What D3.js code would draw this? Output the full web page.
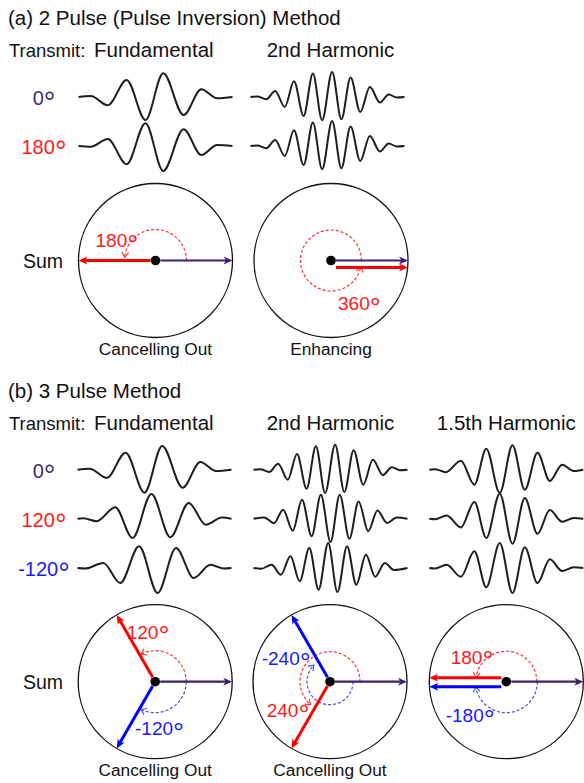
<!DOCTYPE html>
<html>
<head>
<meta charset="utf-8">
<script src="https://cdn.jsdelivr.net/npm/d3@7"></script>
<style>
  body { margin: 0; background: #fff; }
  svg { display: block; font-family: "Liberation Sans", Arial, sans-serif; }
</style>
</head>
<body>
<div id="chart"></div>
<script>
// pulse echoes, extrema: [time (µs), normalised amplitude]
const fund0 = [[-2, 0], [-1.68, 0.04], [-1.24, -0.33], [-0.75, 0.68], [-0.26, -0.92], [0.2, 0.95], [0.73, -0.72], [1.19, 0.31], [1.6, -0.05], [2, 0]];
const fund180 = [[-2, 0], [-1.68, -0.03], [-1.24, 0.28], [-0.75, -0.73], [-0.26, 0.91], [0.2, -1.0], [0.73, 0.67], [1.19, -0.36], [1.6, 0.04], [2, 0]];
const fund120 = [[-2, 0], [-1.85, 0.02], [-1.5, -0.1], [-1.02, 0.46], [-0.57, -0.77], [-0.08, 0.99], [0.41, -0.74], [0.89, 0.63], [1.33, -0.24], [1.75, 0.05], [2, 0]];
const fundM120 = [[-2, 0], [-1.8, -0.02], [-1.33, 0.2], [-0.89, -0.6], [-0.4, 0.87], [0.08, -1.0], [0.56, 0.8], [1.02, -0.4], [1.45, 0.13], [1.8, -0.02], [2, 0]];
const harm2_0 = [[-2, 0], [-1.82, 0.02], [-1.59, -0.09], [-1.36, 0.24], [-1.11, -0.4], [-0.87, 0.63], [-0.62, -0.76], [-0.38, 0.94], [-0.14, -0.93], [0.12, 1.0], [0.36, -0.89], [0.6, 0.78], [0.85, -0.6], [1.1, 0.4], [1.36, -0.22], [1.59, 0.1], [1.8, -0.02], [2, 0]];
const harm2_240 = [[-2, 0], [-1.72, 0.05], [-1.47, -0.18], [-1.23, 0.36], [-0.98, -0.48], [-0.74, 0.76], [-0.49, -0.7], [-0.25, 0.96], [0, -0.93], [0.24, 0.96], [0.49, -0.8], [0.73, 0.69], [0.98, -0.5], [1.22, 0.33], [1.47, -0.17], [1.72, 0.05], [2, 0]];
const harm2_m240 = [[-2, 0], [-1.8, -0.03], [-1.53, 0.13], [-1.29, -0.27], [-1.04, 0.47], [-0.8, -0.53], [-0.55, 0.8], [-0.31, -0.87], [-0.06, 1.0], [0.18, -0.96], [0.43, 0.87], [0.67, -0.67], [0.92, 0.53], [1.16, -0.35], [1.41, 0.2], [1.65, -0.08], [2, 0]];
const harm15_0 = [[-2, 0], [-1.85, 0.02], [-1.57, -0.1], [-1.18, 0.36], [-0.83, -0.6], [-0.52, 0.84], [-0.17, -0.93], [0.16, 0.98], [0.48, -0.8], [0.81, 0.68], [1.13, -0.45], [1.45, 0.2], [1.75, -0.05], [2, 0]];
const harm15_180 = [[-2, 0], [-1.85, -0.02], [-1.55, 0.13], [-1.18, -0.35], [-0.83, 0.67], [-0.52, -0.77], [-0.17, 1.0], [0.16, -1.0], [0.48, 0.83], [0.81, -0.6], [1.13, 0.35], [1.45, -0.12], [1.75, 0.03], [2, 0]];

// transmit phases and what each band does
const pulseLabelsA = [0, 180];
const pulseLabelsB = [0, 120, -120];
const bandsA = ["Fundamental", "2nd Harmonic"];
const bandsB = ["Fundamental", "2nd Harmonic", "1.5th Harmonic"];
const phasesA = [[0, 180], [0, 360]];
const phasesB = [[0, 120, -120], [0, 240, -240], [0, 180, -180]];
const outcomeA = ["Cancelling Out", "Enhancing"];
const outcomeB = ["Cancelling Out", "Cancelling Out", ""];
const wavesA = [[fund0, fund180], [harm2_0, harm2_0]];
const wavesB = [[fund0, fund120, fundM120], [harm2_0, harm2_240, harm2_m240], [harm15_0, harm15_180, harm15_180]];

const W = 584, H = 783;
const arrowCol = ["#3b2266", "#ff0000", "#0000ff"];
const labelCol = ["#3d2b73", "#ff1a1a", "#1a1aff"];
const dashCol = ["none", "#ff3030", "#4a4aff"];

const svg = d3.select("#chart").append("svg").attr("width", W).attr("height", H);
const defs = svg.append("defs");

arrowCol.forEach((c, i) => {
  defs.append("marker")
    .attr("id", "head" + i)
    .attr("viewBox", "-10 -5 12 10")
    .attr("refX", -5).attr("refY", 0)
    .attr("markerWidth", 12).attr("markerHeight", 10)
    .attr("markerUnits", "userSpaceOnUse")
    .attr("orient", "auto")
    .append("path")
    .attr("d", "M-9,-4 L0,0 L-9,4 L-6.5,0 Z")
    .attr("fill", c);
  defs.append("marker")
    .attr("id", "vee" + i)
    .attr("viewBox", "-8 -5 10 10")
    .attr("refX", 0).attr("refY", 0)
    .attr("markerWidth", 10).attr("markerHeight", 10)
    .attr("markerUnits", "userSpaceOnUse")
    .attr("orient", "auto")
    .append("path")
    .attr("d", "M-5,-3.5 L0,0 L-5,3.5")
    .attr("fill", "none")
    .attr("stroke", dashCol[i])
    .attr("stroke-width", 1.1);
});

// text with a big degree ring like the original
function degText(g, x, y, value, size, color, anchor) {
  const t = g.append("text")
    .attr("x", x).attr("y", y)
    .attr("font-size", size)
    .attr("fill", color)
    .attr("text-anchor", anchor || "start");
  t.append("tspan").text(value);
  t.append("tspan").attr("font-size", "145%").attr("dy", "0.24em").text("°");
  return t;
}

function arcPath(cx, cy, r, a0, a1) {
  const p = d3.path();
  const s = -a0 * Math.PI / 180, e = -a1 * Math.PI / 180;
  p.moveTo(cx + r * Math.cos(s), cy + r * Math.sin(s));
  p.arc(cx, cy, r, s, e, a1 > a0);
  return p.toString();
}

function section(opt) {
  const g = svg.append("g");

  g.append("text").attr("x", 8).attr("y", opt.titleY)
    .attr("font-size", 20.5).attr("fill", "#111").text(opt.title);

  const tr = g.append("text").attr("y", opt.transmitY).attr("fill", "#111");
  tr.append("tspan").attr("x", 9).attr("font-size", 18.5).text("Transmit:");
  tr.append("tspan").attr("x", 94).attr("font-size", 20.5).text(opt.bands[0]);
  opt.bands.slice(1).forEach((b, i) => {
    g.append("text").attr("x", opt.bandTextX[i + 1]).attr("y", opt.transmitY)
      .attr("text-anchor", "middle").attr("font-size", 20.5).attr("fill", "#111").text(b);
  });

  // row labels
  opt.pulses.forEach((p, i) => {
    degText(g, 44, opt.rowY[i] + 8, p, 20, labelCol[i], "middle");
  });

  // waveforms
  opt.waves.forEach((col, b) => {
    col.forEach((wave, i) => {
      const x = d3.scaleLinear().domain([-2, 2]).range([opt.waveX[b] - 77, opt.waveX[b] + 77]);
      const y = d3.scaleLinear().domain([-1, 1]).range([opt.rowY[i] + 25, opt.rowY[i] - 25]);
      const line = d3.line().x(d => x(d[0])).y(d => y(d[1])).curve(d3.curveMonotoneX);
      g.append("path").datum(wave)
        .attr("d", line)
        .attr("fill", "none")
        .attr("stroke", "#1e1e1e")
        .attr("stroke-width", 2);
    });
  });

  // phasor sums
  g.append("text").attr("x", 43).attr("y", opt.circleY + 7)
    .attr("text-anchor", "middle").attr("font-size", 19.5).attr("fill", "#111").text("Sum");

  const rScale = d3.scaleLinear().domain([0, 1]).range([0, 77]);

  opt.phases.forEach((ph, b) => {
    const cx = opt.circleX[b], cy = opt.circleY;
    const c = g.append("g");
    c.append("circle").attr("cx", cx).attr("cy", cy).attr("r", rScale(1))
      .attr("fill", "none").attr("stroke", "#111").attr("stroke-width", 1.3);

    // dashed rotation arcs
    ph.forEach((a, i) => {
      if (i === 0) return;
      const stop = opt.arcStop[b][i] * Math.sign(a);
      c.append("path")
        .attr("d", arcPath(cx, cy, opt.arcR[b][i], 0, a - stop))
        .attr("fill", "none")
        .attr("stroke", dashCol[i])
        .attr("stroke-width", 1.2)
        .attr("stroke-dasharray", "3,2")
        .attr("marker-end", `url(#vee${i})`);
    });

    // phasor arrows, last one drawn first so 0° sits on top
    ph.slice().reverse().forEach((a, k) => {
      const i = ph.length - 1 - k;
      const rad = (90 - a) * Math.PI / 180;
      const dy = opt.shift[b][i];
      const p0 = d3.pointRadial(rad, rScale(0.065));
      const p1 = d3.pointRadial(rad, rScale(1) - 5);
      c.append("line")
        .attr("x1", cx + p0[0]).attr("y1", cy + p0[1] + dy)
        .attr("x2", cx + p1[0]).attr("y2", cy + p1[1] + dy)
        .attr("stroke", arrowCol[i])
        .attr("stroke-width", i === 0 ? 2.2 : 3)
        .attr("marker-end", `url(#head${i})`);
    });

    c.append("circle").attr("cx", cx).attr("cy", cy).attr("r", 4.8).attr("fill", "#000");

    // angle tags
    ph.forEach((a, i) => {
      const tag = opt.tag[b][i];
      if (!tag) return;
      degText(c, cx + tag[0], cy + tag[1], a, 19, labelCol[i]);
    });

    if (opt.outcome[b]) {
      c.append("text").attr("x", cx).attr("y", cy + 94.5)
        .attr("text-anchor", "middle").attr("font-size", 17.3).attr("fill", "#111")
        .text(opt.outcome[b]);
    }
  });
}

section({
  title: "(a) 2 Pulse (Pulse Inversion) Method",
  titleY: 25, transmitY: 57,
  bands: bandsA, bandTextX: [null, 330.5],
  pulses: pulseLabelsA, rowY: [97, 146],
  waves: wavesA, waveX: [155.5, 327.5],
  phases: phasesA, outcome: outcomeA,
  circleX: [155.5, 331], circleY: 260.5,
  shift: [[0, 0], [0, 7]],
  arcR: [[0, 31], [0, 30.5]],
  arcStop: [[0, 6], [0, 12]],
  tag: [[null, [-60, -13.5]], [null, [7, 49.5]]]
});

section({
  title: "(b) 3 Pulse Method",
  titleY: 398, transmitY: 430,
  bands: bandsB, bandTextX: [null, 330.5, 506.3],
  pulses: pulseLabelsB, rowY: [469.7, 518.7, 568],
  waves: wavesB, waveX: [154.5, 330.5, 506.3],
  phases: phasesB, outcome: outcomeB,
  circleX: [155.2, 330, 506.3], circleY: 681.7,
  shift: [[0, 0, 0], [0, 0, 0], [0, -4, 5]],
  arcR: [[0, 31, 31], [0, 30, 23], [0, 30.5, 31]],
  arcStop: [[0, 3, 3], [0, 10, 14], [0, 8, 10]],
  tag: [[null, [-28.5, -43.2], [-20.2, 53.3]],
        [null, [-63.3, 35.3], [-68.3, -16.7]],
        [null, [-55.6, -18.2], [-60.6, 40.3]]]
});
</script>
</body>
</html>
